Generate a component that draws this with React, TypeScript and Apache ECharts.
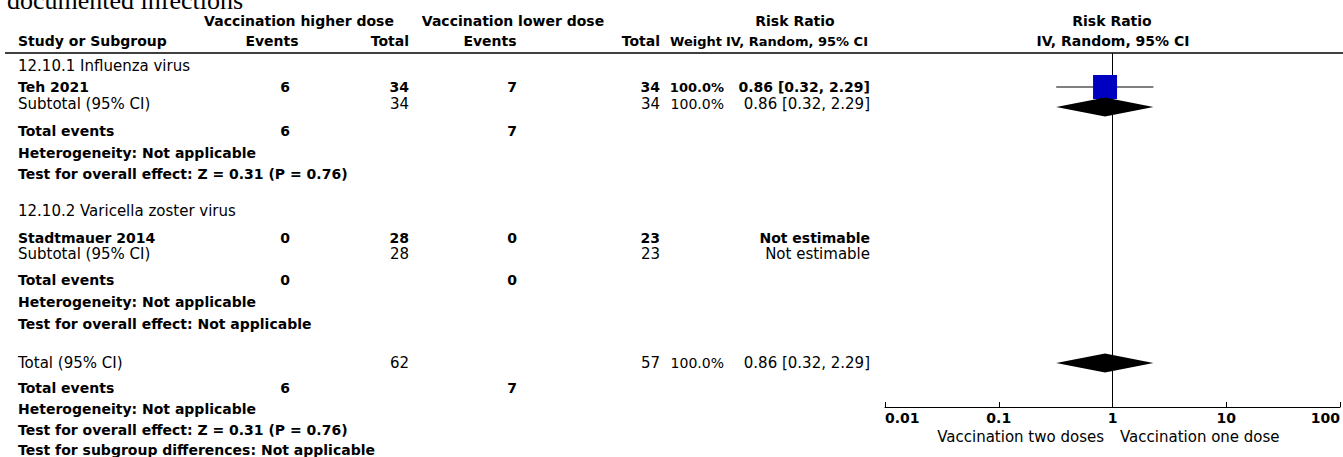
import React, { useEffect, useRef } from "react";
import * as echarts from "echarts";

// ---------- data ----------
const titleText = "documented infections";
const groupHeaders = ["Vaccination higher dose", "Vaccination lower dose", "Risk Ratio"];
const colHeaders = ["Study or Subgroup", "Events", "Total", "Events", "Total", "Weight", "IV, Random, 95% CI"];
const plotHeaders = ["Risk Ratio", "IV, Random, 95% CI"];

const subgroupNames = ["12.10.1 Influenza virus", "12.10.2 Varicella zoster virus"];
const studyNames = ["Teh 2021", "Stadtmauer 2014"];
const higherEvents = ["6", "0"];
const higherTotal = ["34", "28"];
const lowerEvents = ["7", "0"];
const lowerTotal = ["34", "23"];
const studyWeight = ["100.0%", ""];
const studyRRText = ["0.86 [0.32, 2.29]", "Not estimable"];
const studyRR = [0.86, null];
const studyLo = [0.32, null];
const studyHi = [2.29, null];

const subtotalHigherTotal = ["34", "28"];
const subtotalLowerTotal = ["34", "23"];
const subtotalWeight = ["100.0%", ""];
const subtotalRRText = ["0.86 [0.32, 2.29]", "Not estimable"];
const subtotalRR = [0.86, null];
const subtotalLo = [0.32, null];
const subtotalHi = [2.29, null];
const subtotalHigherEvents = ["6", "0"];
const subtotalLowerEvents = ["7", "0"];
const subtotalHeterogeneity = ["Heterogeneity: Not applicable", "Heterogeneity: Not applicable"];
const subtotalOverall = ["Test for overall effect: Z = 0.31 (P = 0.76)", "Test for overall effect: Not applicable"];

const totalHigherTotal = "62";
const totalLowerTotal = "57";
const totalWeight = "100.0%";
const totalRRText = "0.86 [0.32, 2.29]";
const totalRR = 0.86;
const totalLo = 0.32;
const totalHi = 2.29;
const totalHigherEvents = "6";
const totalLowerEvents = "7";
const totalFootnotes = [
  "Heterogeneity: Not applicable",
  "Test for overall effect: Z = 0.31 (P = 0.76)",
  "Test for subgroup differences: Not applicable",
];

const xTickValues = [0.01, 0.1, 1, 10, 100];
const xTickLabels = ["0.01", "0.1", "1", "10", "100"];
const favoursLeft = "Vaccination two doses";
const favoursRight = "Vaccination one dose";

// ---------- layout ----------
const W = 1343;
const H = 457;
const FONT = "DejaVu Sans";
const FS = 14; // bold size
const FSN = 15; // normal size
const PLOT_TOP = 53;
const PLOT_BOTTOM = 407;
const PLOT_LEFT = 885;
const PLOT_RIGHT = 1341;

const X_STUDY = 18;
const X_HI_EV = 285; // center
const X_HI_TOT = 409; // right
const X_LO_EV = 512; // center
const X_LO_TOT = 660; // right
const X_WEIGHT = 724; // right
const X_RR = 870; // right

// row centers (page px)
const groupRows = [
  { title: 66, study: 87, subtotal: 104, events: 131, het: 153, overall: 174, diamond: 107 },
  { title: 211, study: 238, subtotal: 254, events: 280, het: 302, overall: 324, diamond: 257 },
];
const totalRowY = 363;
const totalEventsY = 388;
const totalFootY = [409, 430, 450];

type TxtOpt = { align?: string; bold?: boolean; size?: number; family?: string; color?: string };
function txt(x: number, y: number, text: string, o: TxtOpt = {}) {
  return {
    type: "text",
    x,
    y,
    silent: true,
    style: {
      text,
      fill: o.color || "#000",
      font: `${o.bold ? "bold" : "normal"} ${o.size || (o.bold ? FS : FSN)}px "${o.family || FONT}"`,
      align: o.align || "left",
      verticalAlign: "middle",
    },
  };
}

function buildGraphics() {
  const g: any[] = [];
  g.push(txt(7, 0, titleText, { family: "Liberation Serif", size: 26 }));
  // group headers
  g.push(txt(299, 21, groupHeaders[0], { align: "center", bold: true }));
  g.push(txt(513, 21, groupHeaders[1], { align: "center", bold: true }));
  g.push(txt(795, 21, groupHeaders[2], { align: "center", bold: true }));
  g.push(txt(1112, 21, plotHeaders[0], { align: "center", bold: true }));
  // column headers
  g.push(txt(X_STUDY, 41, colHeaders[0], { bold: true }));
  g.push(txt(272, 41, colHeaders[1], { align: "center", bold: true }));
  g.push(txt(X_HI_TOT, 41, colHeaders[2], { align: "right", bold: true }));
  g.push(txt(490, 41, colHeaders[3], { align: "center", bold: true }));
  g.push(txt(X_LO_TOT, 41, colHeaders[4], { align: "right", bold: true }));
  g.push(txt(X_WEIGHT - 2, 41, colHeaders[5], { align: "right", bold: true, size: 13 }));
  g.push(txt(868, 41, colHeaders[6], { align: "right", bold: true, size: 13 }));
  g.push(txt(1113, 41, plotHeaders[1], { align: "center", bold: true }));
  // header rule
  g.push({
    type: "line",
    silent: true,
    shape: { x1: 5, y1: PLOT_TOP, x2: W, y2: PLOT_TOP },
    style: { stroke: "#000", lineWidth: 1.5 },
  });

  groupRows.forEach((r, i) => {
    g.push(txt(X_STUDY, r.title, subgroupNames[i]));
    g.push(txt(X_STUDY, r.study, studyNames[i], { bold: true }));
    g.push(txt(X_HI_EV, r.study, higherEvents[i], { align: "center", bold: true }));
    g.push(txt(X_HI_TOT, r.study, higherTotal[i], { align: "right", bold: true }));
    g.push(txt(X_LO_EV, r.study, lowerEvents[i], { align: "center", bold: true }));
    g.push(txt(X_LO_TOT, r.study, lowerTotal[i], { align: "right", bold: true }));
    if (studyWeight[i]) g.push(txt(X_WEIGHT, r.study, studyWeight[i], { align: "right", bold: true, size: 13 }));
    g.push(txt(X_RR, r.study, studyRRText[i], { align: "right", bold: true }));

    g.push(txt(X_STUDY, r.subtotal, "Subtotal (95% CI)"));
    g.push(txt(X_HI_TOT, r.subtotal, subtotalHigherTotal[i], { align: "right" }));
    g.push(txt(X_LO_TOT, r.subtotal, subtotalLowerTotal[i], { align: "right" }));
    if (subtotalWeight[i]) g.push(txt(X_WEIGHT, r.subtotal, subtotalWeight[i], { align: "right", size: 14 }));
    g.push(txt(X_RR, r.subtotal, subtotalRRText[i], { align: "right" }));

    g.push(txt(X_STUDY, r.events, "Total events", { bold: true }));
    g.push(txt(X_HI_EV, r.events, subtotalHigherEvents[i], { align: "center", bold: true }));
    g.push(txt(X_LO_EV, r.events, subtotalLowerEvents[i], { align: "center", bold: true }));
    g.push(txt(X_STUDY, r.het, subtotalHeterogeneity[i], { bold: true }));
    g.push(txt(X_STUDY, r.overall, subtotalOverall[i], { bold: true }));
  });

  g.push(txt(X_STUDY, totalRowY, "Total (95% CI)"));
  g.push(txt(X_HI_TOT, totalRowY, totalHigherTotal, { align: "right" }));
  g.push(txt(X_LO_TOT, totalRowY, totalLowerTotal, { align: "right" }));
  g.push(txt(X_WEIGHT, totalRowY, totalWeight, { align: "right", size: 14 }));
  g.push(txt(X_RR, totalRowY, totalRRText, { align: "right" }));
  g.push(txt(X_STUDY, totalEventsY, "Total events", { bold: true }));
  g.push(txt(X_HI_EV, totalEventsY, totalHigherEvents, { align: "center", bold: true }));
  g.push(txt(X_LO_EV, totalEventsY, totalLowerEvents, { align: "center", bold: true }));
  totalFootnotes.forEach((t, i) => g.push(txt(X_STUDY, totalFootY[i], t, { bold: true })));

  g.push(txt(1104, 437, favoursLeft, { align: "right", size: 15 }));
  g.push(txt(1120, 437, favoursRight, { align: "left", size: 15 }));
  return g;
}

function buildForestData() {
  const d: any[] = [];
  groupRows.forEach((r, i) => {
    if (studyRR[i] != null) d.push([studyRR[i], studyLo[i], studyHi[i], r.study - PLOT_TOP, 0]);
    if (subtotalRR[i] != null) d.push([subtotalRR[i], subtotalLo[i], subtotalHi[i], r.diamond - PLOT_TOP, 1]);
  });
  d.push([totalRR, totalLo, totalHi, totalRowY - PLOT_TOP, 1]);
  return d;
}

export default function App() {
  const ref = useRef<HTMLDivElement>(null);
  useEffect(() => {
    if (!ref.current) return;
    const chart = echarts.init(ref.current, undefined, { renderer: "svg" });
    chart.setOption({
      animation: false,
      backgroundColor: "#fff",
      grid: {
        left: PLOT_LEFT,
        right: W - PLOT_RIGHT,
        top: PLOT_TOP,
        bottom: H - PLOT_BOTTOM,
        containLabel: false,
      },
      xAxis: {
        type: "log",
        logBase: 10,
        min: xTickValues[0],
        max: xTickValues[xTickValues.length - 1],
        position: "bottom",
        splitLine: { show: false },
        minorTick: { show: false },
        axisLine: { show: true, onZero: false, lineStyle: { color: "#000", width: 1 } },
        axisTick: { show: true, inside: true, length: 5, lineStyle: { color: "#000", width: 1 } },
        axisLabel: {
          color: "#000",
          fontFamily: FONT,
          fontWeight: "bold",
          fontSize: 14,
          margin: 4,
          alignMinLabel: "left",
          alignMaxLabel: "right",
          formatter: (_v: number, idx: number) => xTickLabels[idx],
        },
      },
      yAxis: {
        type: "value",
        min: 0,
        max: PLOT_BOTTOM - PLOT_TOP,
        inverse: true,
        show: false,
        splitLine: { show: false },
      },
      graphic: buildGraphics(),
      series: [
        {
          type: "custom",
          silent: true,
          encode: { x: [0, 1, 2], y: 3 },
          data: buildForestData(),
          renderItem: (_p: any, api: any) => {
            const rr = api.value(0);
            const lo = api.value(1);
            const hi = api.value(2);
            const y = api.value(3);
            const kind = api.value(4);
            const pR = api.coord([rr, y]);
            const pL = api.coord([lo, y]);
            const pH = api.coord([hi, y]);
            if (kind === 0) {
              const s = 24;
              return {
                type: "group",
                children: [
                  {
                    type: "line",
                    shape: { x1: pL[0], y1: pL[1], x2: pH[0], y2: pH[1] },
                    style: { stroke: "#000", lineWidth: 1 },
                  },
                  {
                    type: "rect",
                    shape: { x: pR[0] - s / 2, y: pR[1] - s / 2, width: s, height: s },
                    style: { fill: "#0000c0" },
                  },
                ],
              };
            }
            const h = 9.5;
            return {
              type: "polygon",
              shape: {
                points: [
                  [pL[0], pL[1]],
                  [pR[0], pR[1] - h],
                  [pH[0], pH[1]],
                  [pR[0], pR[1] + h],
                ],
              },
              style: { fill: "#000" },
            };
          },
          markLine: {
            silent: true,
            symbol: ["none", "none"],
            label: { show: false },
            lineStyle: { color: "#000", width: 1, type: "solid" },
            data: [{ xAxis: 1 }],
          },
          z: 5,
        },
      ],
    });
    return () => chart.dispose();
  }, []);
  return (
    <div
      ref={ref}
      style={{ position: "fixed", left: 0, top: 0, width: W, height: H, background: "#fff" }}
    />
  );
}
